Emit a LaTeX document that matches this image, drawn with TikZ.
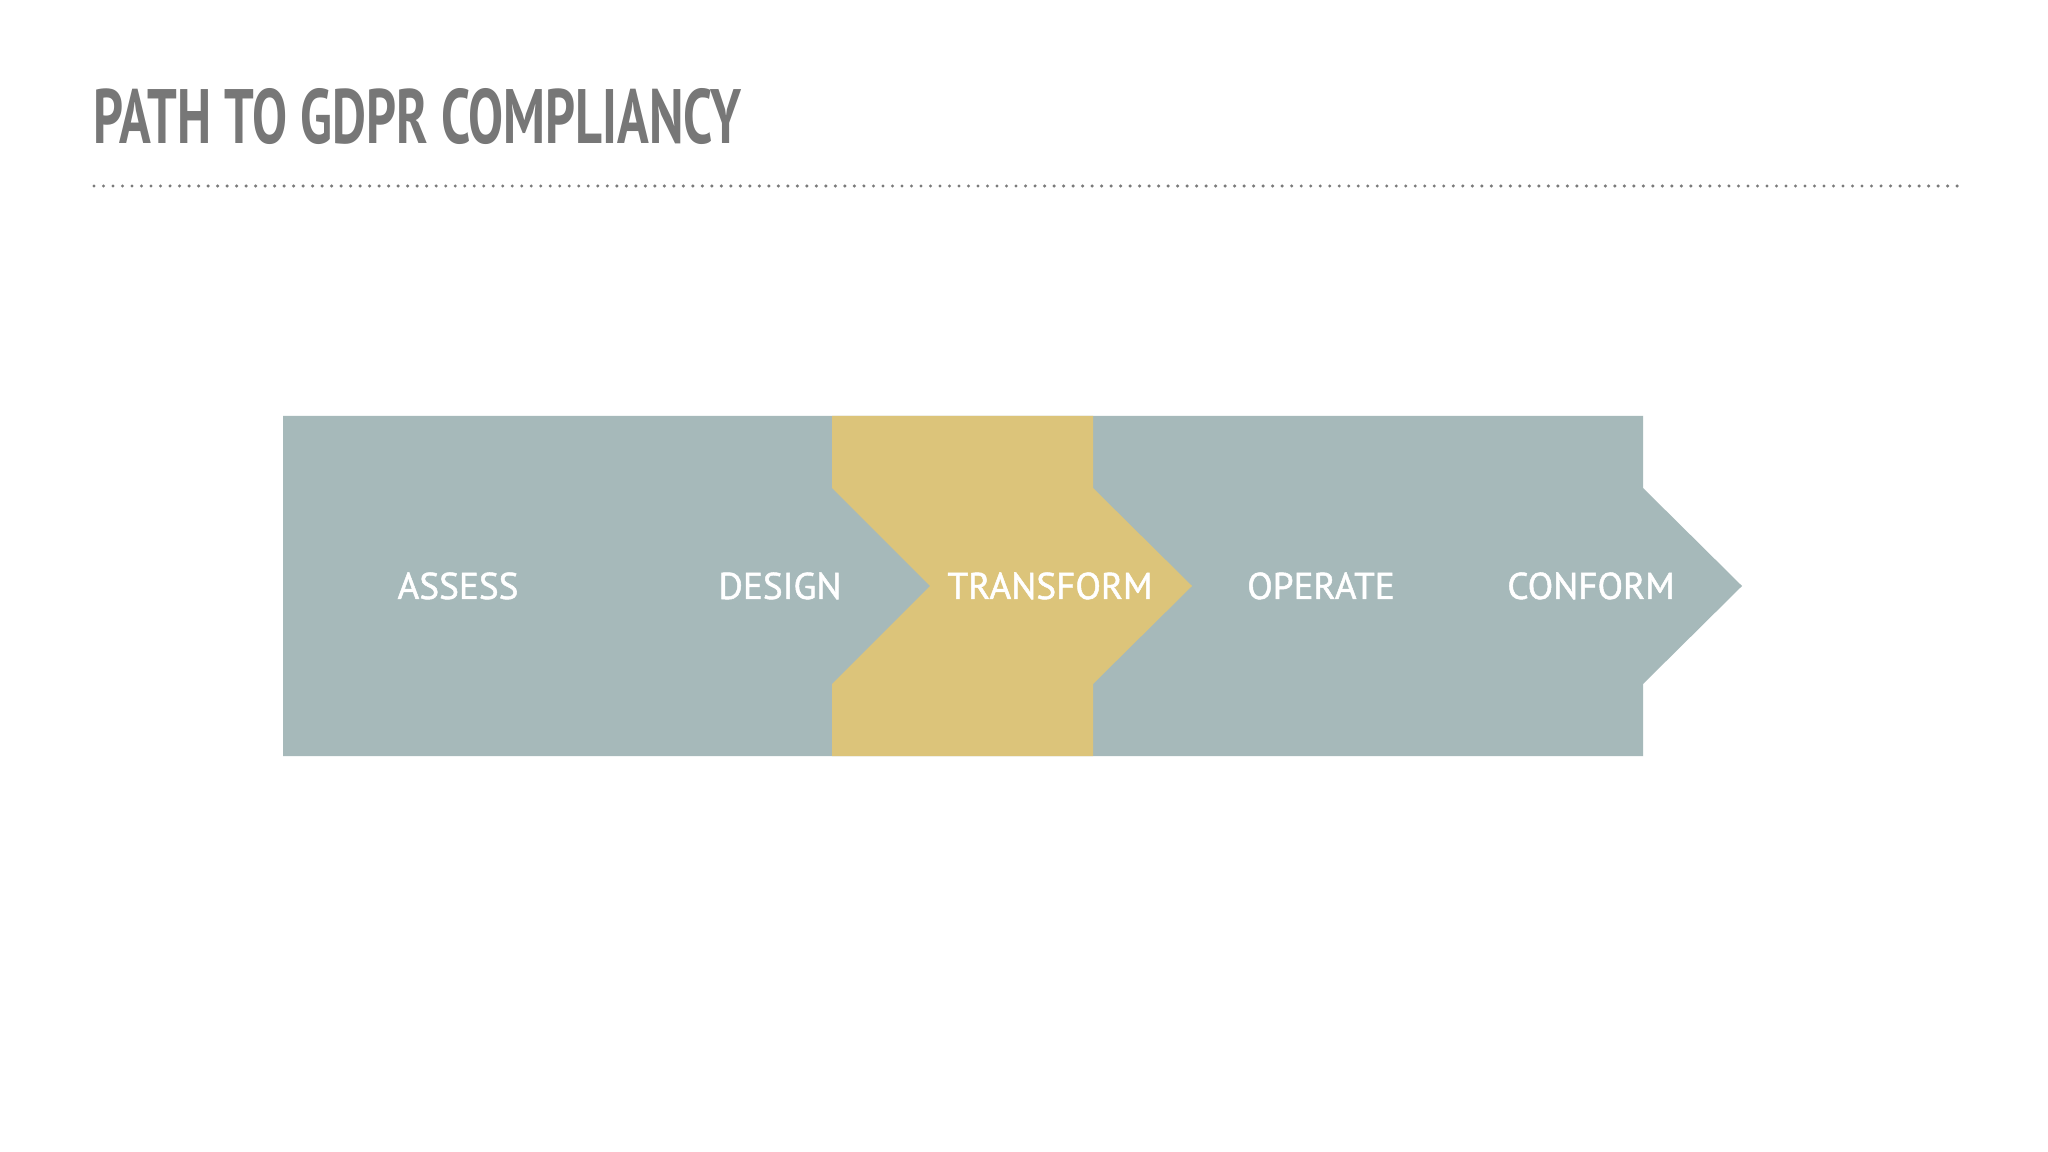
\documentclass[tikz,border=0pt]{standalone}
\usepackage{fontspec}
\setmainfont{PT Sans}
\newfontfamily\phasefont[FakeBold=1.3]{PT Sans}
\usepackage{tikz}
\usetikzlibrary{calc}
\definecolor{GSlate}{HTML}{A6B9BA}
\definecolor{GSand}{HTML}{DCC47A}
\definecolor{GTitle}{HTML}{777777}
\definecolor{GDots}{HTML}{7A7A7A}
\tikzset{
    band/.style = {fill=GSlate, draw=none},
    chevron/.style = {fill=GSand, draw=none},
    phase/.style = {anchor=base, text=white, inner sep=0pt,
        font=\phasefont\fontsize{10.6pt}{12pt}\selectfont},
    heading/.style = {anchor=base west, text=GTitle, inner sep=0pt},
    rule/.style = {draw=GDots, line width=0.34mm, line cap=round,
        dash pattern=on 0pt off 0.95mm}
}

\begin{document}
\begin{tikzpicture}[x=0.01cm, y=-0.01cm]
  \useasboundingbox[fill=white] (0,0) rectangle (2048,1152);
  % title and dotted rule
  \node[heading] (title) at (93,144)
    {\resizebox{6.47cm}{5.5mm}{\bfseries PATH TO GDPR COMPLIANCY}};
  \coordinate (ruleL) at (94,186);
  \coordinate (ruleR) at (1962,186);
  \draw[rule] (ruleL) -- (ruleR);
  % band with arrow head
  \fill[band] (283,416) -- (1643,416) -- (1643,488) -- (1742,586)
    -- (1643,684) -- (1643,756) -- (283,756) -- cycle;
  % highlighted step
  \fill[chevron] (832,416) -- (1093,416) -- (1093,488) -- (1192,586)
    -- (1093,684) -- (1093,756) -- (832,756) -- (832,684)
    -- (930,586) -- (832,488) -- cycle;
  \foreach \x/\name in {458/ASSESS,780/DESIGN,1050/TRANSFORM,1321/OPERATE,1591/CONFORM}{
    \node[phase] (\name) at (\x,599) {\name};
  };
\end{tikzpicture}
\end{document}
